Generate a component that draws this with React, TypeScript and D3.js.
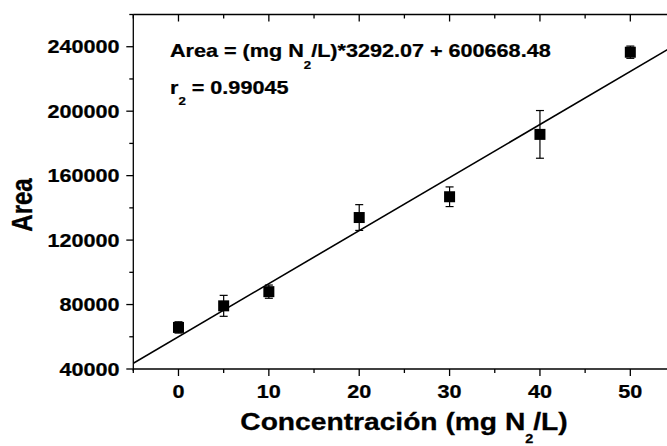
import React from "react";
import * as d3 from "d3";

const concentrations = [0, 5, 10, 20, 30, 40, 50];
const areas = [65800, 79200, 88000, 134000, 146900, 185600, 236600];
const errors = [3500, 6500, 4100, 8000, 6100, 14800, 3800];
const slope = 3292.07;
const intercept = 60066.848;
const xTicks = [0, 10, 20, 30, 40, 50];
const xMinorTicks = [-5, 5, 15, 25, 35, 45, 55];
const yTicks = [40000, 80000, 120000, 160000, 200000, 240000];
const yMinorTicks = [60000, 100000, 140000, 180000, 220000, 260000];

const W = 667;
const H = 446;
const left = 133.3;
const right = 675.5;
const top = 14.5;
const bottom = 369;
const SX = 1.2;
const FONT = "'Liberation Sans', Arial, Helvetica, sans-serif";

export default function App() {
  const x = d3.scaleLinear().domain([-5, 55]).range([left, right]);
  const y = d3.scaleLinear().domain([40000, 260000]).range([bottom, top]);
  const fitLine = d3
    .line<number>()
    .x((d) => x(d))
    .y((d) => y(slope * d + intercept));
  const sq = 11;
  const cap = 4;

  return (
    <svg width={W} height={H} style={{ position: "absolute", left: 0, top: 0, background: "#fff" }}>
      <defs>
        <clipPath id="plot">
          <rect x={left} y={top} width={right - left} height={bottom - top} />
        </clipPath>
      </defs>
      <rect x={0} y={0} width={W} height={H} fill="#fff" />

      {/* fit line */}
      <path d={fitLine([-5, 55]) || ""} fill="none" stroke="#000" strokeWidth={1.6} clipPath="url(#plot)" />

      {/* error bars and markers */}
      {concentrations.map((c, i) => {
        const cx = x(c);
        const cy = y(areas[i]);
        const y1 = y(areas[i] + errors[i]);
        const y2 = y(areas[i] - errors[i]);
        return (
          <g key={i}>
            <line x1={cx} x2={cx} y1={y1} y2={y2} stroke="#000" strokeWidth={1.2} />
            <line x1={cx - cap} x2={cx + cap} y1={y1} y2={y1} stroke="#000" strokeWidth={1.2} />
            <line x1={cx - cap} x2={cx + cap} y1={y2} y2={y2} stroke="#000" strokeWidth={1.2} />
            <rect x={cx - sq / 2} y={cy - sq / 2} width={sq} height={sq} fill="#000" />
          </g>
        );
      })}

      {/* frame */}
      <line x1={left} x2={left} y1={top} y2={bottom + 2} stroke="#000" strokeWidth={1.3} />
      <line x1={left} x2={right} y1={bottom} y2={bottom} stroke="#000" strokeWidth={1.3} />
      <line x1={left} x2={right} y1={top} y2={top} stroke="#000" strokeWidth={1.3} />
      <line x1={right} x2={right} y1={top} y2={bottom} stroke="#000" strokeWidth={1.3} />

      {/* x ticks */}
      {xTicks.map((t) => (
        <g key={"xt" + t}>
          <line x1={x(t)} x2={x(t)} y1={bottom} y2={bottom + 7} stroke="#000" strokeWidth={1.3} />
          <line x1={x(t)} x2={x(t)} y1={top} y2={top + 7} stroke="#000" strokeWidth={1.3} />
          <text
            transform={`translate(${x(t)},398) scale(${SX},1)`}
            textAnchor="middle"
            fontFamily={FONT}
            fontWeight="bold"
            fontSize={18}
            stroke="#000"
            strokeWidth={0.25}
          >
            {t}
          </text>
        </g>
      ))}
      {xMinorTicks.map((t) => (
        <g key={"xm" + t}>
          <line x1={x(t)} x2={x(t)} y1={bottom} y2={bottom + 4} stroke="#000" strokeWidth={1.3} />
          <line x1={x(t)} x2={x(t)} y1={top} y2={top + 4} stroke="#000" strokeWidth={1.3} />
        </g>
      ))}

      {/* y ticks */}
      {yTicks.map((t) => (
        <g key={"yt" + t}>
          <line x1={left - 7} x2={left} y1={y(t)} y2={y(t)} stroke="#000" strokeWidth={1.3} />
          <text
            transform={`translate(119.5,${y(t) + 6.5}) scale(${SX},1)`}
            textAnchor="end"
            fontFamily={FONT}
            fontWeight="bold"
            fontSize={18}
            stroke="#000"
            strokeWidth={0.25}
          >
            {t}
          </text>
        </g>
      ))}
      {yMinorTicks.map((t) => (
        <line key={"ym" + t} x1={left - 4} x2={left} y1={y(t)} y2={y(t)} stroke="#000" strokeWidth={1.3} />
      ))}

      {/* equation */}
      <text
        transform={`translate(170,57.3) scale(${SX},1)`}
        fontFamily={FONT}
        fontWeight="bold"
        fontSize={18}
        stroke="#000"
        strokeWidth={0.25}
      >
        <tspan>Area = (mg N</tspan>
        <tspan fontSize={11} dy={12}>2</tspan>
        <tspan dy={-12}>/L)*3292.07 + 600668.48</tspan>
      </text>
      <text
        transform={`translate(170,93.5) scale(${SX},1)`}
        fontFamily={FONT}
        fontWeight="bold"
        fontSize={18}
        stroke="#000"
        strokeWidth={0.25}
      >
        <tspan>r</tspan>
        <tspan fontSize={11} dy={11.5}>2</tspan>
        <tspan dy={-11.5}> = 0.99045</tspan>
      </text>

      {/* axis titles */}
      <text
        transform={`translate(404,430) scale(${SX},1)`}
        textAnchor="middle"
        fontFamily={FONT}
        fontWeight="bold"
        fontSize={23.5}
        stroke="#000"
        strokeWidth={0.3}
      >
        <tspan>Concentración (mg N</tspan>
        <tspan fontSize={12} dy={13}>2</tspan>
        <tspan dy={-13}>/L)</tspan>
      </text>
      <text
        transform={`translate(32.3,205) scale(${SX},1) rotate(-90)`}
        textAnchor="middle"
        fontFamily={FONT}
        fontWeight="bold"
        fontSize={24}
        stroke="#000"
        strokeWidth={0.3}
      >
        Area
      </text>
    </svg>
  );
}
